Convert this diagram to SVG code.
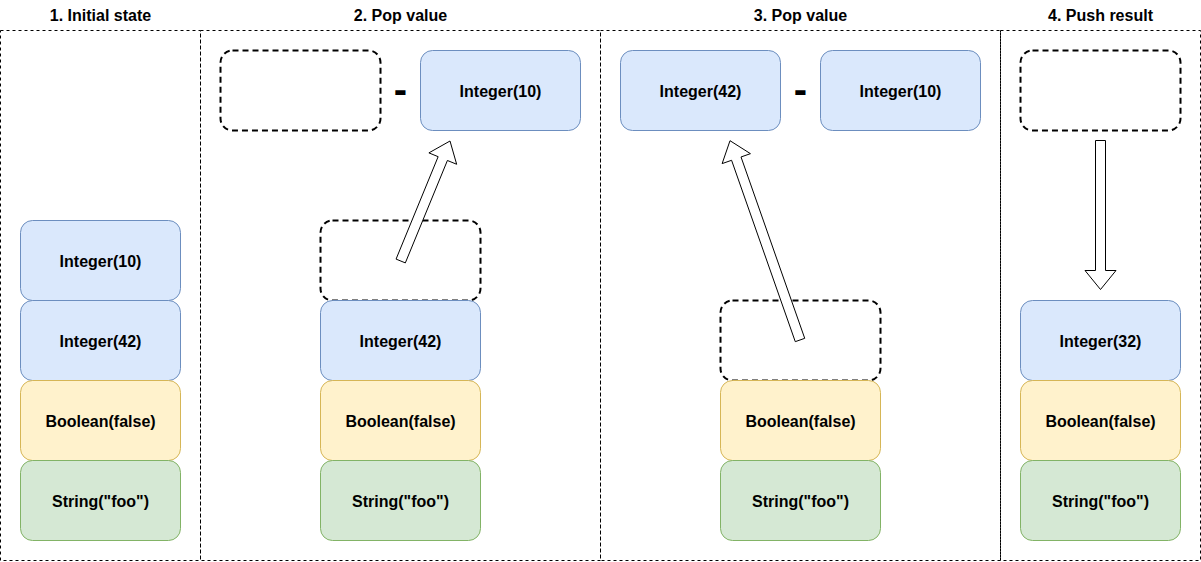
<svg xmlns="http://www.w3.org/2000/svg" width="1201" height="562" viewBox="0 0 1201 562">
<style>
.panel{fill:none;stroke:#000;stroke-width:1;stroke-dasharray:3 3}
.title{font-family:"Liberation Sans",Arial,sans-serif;font-size:16px;font-weight:bold;fill:#000;text-anchor:middle}
.lbl{font-family:"Liberation Sans",Arial,sans-serif;font-size:16px;font-weight:bold;fill:#000;text-anchor:middle}
.op{font-family:"Liberation Sans",Arial,sans-serif;font-size:40px;font-weight:bold;fill:#000;text-anchor:middle}
.int{fill:#dae8fc;stroke:#6c8ebf;stroke-width:1}
.bool{fill:#fff2cc;stroke:#d6b656;stroke-width:1}
.str{fill:#d5e8d4;stroke:#82b366;stroke-width:1}
.slot{fill:none;stroke:#000;stroke-width:2;stroke-dasharray:6 4}
.arrow{fill:#fff;stroke:#000;stroke-width:1;stroke-linejoin:miter}
</style>
<rect width="1201" height="562" fill="#fff"/>
<g id="panels">
<rect class="panel" x="0.5" y="30.5" width="200" height="530"/>
<rect class="panel" x="200.5" y="30.5" width="400" height="530"/>
<rect class="panel" x="600.5" y="30.5" width="400" height="530"/>
<rect class="panel" x="1000.5" y="30.5" width="200" height="530"/>
<text class="title" x="100.5" y="21">1. Initial state</text>
<text class="title" x="400.5" y="21">2. Pop value</text>
<text class="title" x="800.5" y="21">3. Pop value</text>
<text class="title" x="1100.5" y="21">4. Push result</text>
</g>
<g id="p1-int10"><rect class="int" x="20.5" y="220.5" width="160" height="80" rx="12"/><text class="lbl" x="100.5" y="266.5">Integer(10)</text></g>
<g id="p1-int42"><rect class="int" x="20.5" y="300.5" width="160" height="80" rx="12"/><text class="lbl" x="100.5" y="346.5">Integer(42)</text></g>
<g id="p1-bool"><rect class="bool" x="20.5" y="380.5" width="160" height="80" rx="12"/><text class="lbl" x="100.5" y="426.5">Boolean(false)</text></g>
<g id="p1-str"><rect class="str" x="20.5" y="460.5" width="160" height="80" rx="12"/><text class="lbl" x="100.5" y="506.5">String("foo")</text></g>

<g id="p2-slot-left"><rect class="slot" x="220.5" y="50.5" width="160" height="80" rx="12"/></g>
<g id="p2-minus"><text class="op" x="400.5" y="103">-</text></g>
<g id="p2-int10"><rect class="int" x="420.5" y="50.5" width="160" height="80" rx="12"/><text class="lbl" x="500.5" y="96.5">Integer(10)</text></g>
<g id="p2-slot-stack"><rect class="slot" x="320.5" y="220.5" width="160" height="80" rx="12"/></g>
<g id="p2-int42"><rect class="int" x="320.5" y="300.5" width="160" height="80" rx="12"/><text class="lbl" x="400.5" y="346.5">Integer(42)</text></g>
<g id="p2-bool"><rect class="bool" x="320.5" y="380.5" width="160" height="80" rx="12"/><text class="lbl" x="400.5" y="426.5">Boolean(false)</text></g>
<g id="p2-str"><rect class="str" x="320.5" y="460.5" width="160" height="80" rx="12"/><text class="lbl" x="400.5" y="506.5">String("foo")</text></g>

<g id="p3-int42"><rect class="int" x="620.5" y="50.5" width="160" height="80" rx="12"/><text class="lbl" x="700.5" y="96.5">Integer(42)</text></g>
<g id="p3-minus"><text class="op" x="800.5" y="103">-</text></g>
<g id="p3-int10"><rect class="int" x="820.5" y="50.5" width="160" height="80" rx="12"/><text class="lbl" x="900.5" y="96.5">Integer(10)</text></g>
<g id="p3-slot-stack"><rect class="slot" x="720.5" y="300.5" width="160" height="80" rx="12"/></g>
<g id="p3-bool"><rect class="bool" x="720.5" y="380.5" width="160" height="80" rx="12"/><text class="lbl" x="800.5" y="426.5">Boolean(false)</text></g>
<g id="p3-str"><rect class="str" x="720.5" y="460.5" width="160" height="80" rx="12"/><text class="lbl" x="800.5" y="506.5">String("foo")</text></g>

<g id="p4-slot-result"><rect class="slot" x="1020.5" y="50.5" width="160" height="80" rx="12"/></g>
<g id="p4-int32"><rect class="int" x="1020.5" y="300.5" width="160" height="80" rx="12"/><text class="lbl" x="1100.5" y="346.5">Integer(32)</text></g>
<g id="p4-bool"><rect class="bool" x="1020.5" y="380.5" width="160" height="80" rx="12"/><text class="lbl" x="1100.5" y="426.5">Boolean(false)</text></g>
<g id="p4-str"><rect class="str" x="1020.5" y="460.5" width="160" height="80" rx="12"/><text class="lbl" x="1100.5" y="506.5">String("foo")</text></g>

<g id="connectors">
<polygon class="arrow" points="396.07,259.10 438.15,156.68 428.90,152.88 450,141 456.66,164.28 447.41,160.48 405.33,262.90"/>
<polygon class="arrow" points="795.28,341.66 731.58,160.29 722.15,163.60 730,140.7 750.45,153.66 741.02,156.97 804.72,338.34"/>
<polygon class="arrow" points="1095.5,140.5 1095.5,270.5 1085,270.5 1100.5,289.5 1116,270.5 1105.5,270.5 1105.5,140.5"/>
</g>
</svg>
